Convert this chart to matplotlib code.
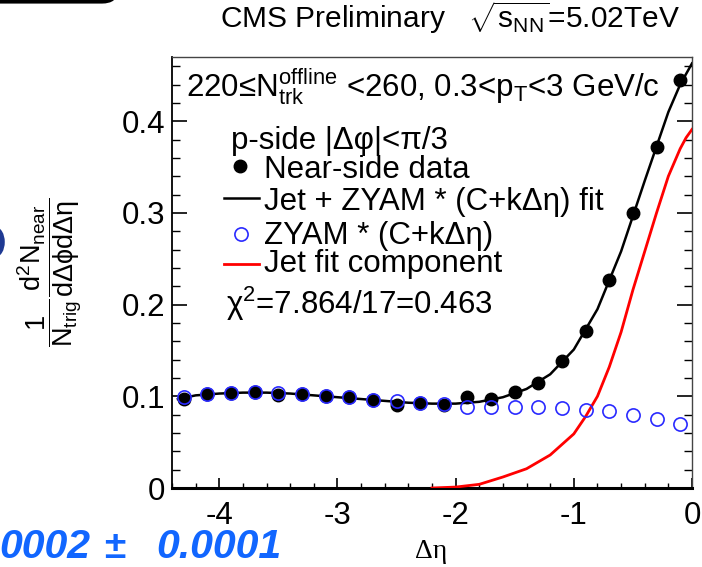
import matplotlib.pyplot as plt
from matplotlib.patches import FancyBboxPatch, Arc
from matplotlib.ticker import MultipleLocator

plt.rcParams['font.family'] = 'Liberation Sans'
plt.rcParams['mathtext.fontset'] = 'custom'
plt.rcParams['mathtext.rm'] = 'Liberation Sans'
plt.rcParams['mathtext.it'] = 'Liberation Sans:italic'
plt.rcParams['mathtext.default'] = 'regular'
plt.rcParams['axes.unicode_minus'] = False

# near-side projection, 0.2 wide bins in delta-eta
deta = [-4.3, -4.1, -3.9, -3.7, -3.5, -3.3, -3.1, -2.9, -2.7, -2.5, -2.3,
        -2.1, -1.9, -1.7, -1.5, -1.3, -1.1, -0.9, -0.7, -0.5, -0.3, -0.1]
near_side = [0.097, 0.103, 0.104, 0.105, 0.101, 0.103, 0.100, 0.099, 0.096, 0.091, 0.093,
             0.091, 0.099, 0.097, 0.105, 0.114, 0.139, 0.171, 0.227, 0.300, 0.372, 0.445]
zyam_bg = [0.099, 0.102, 0.104, 0.105, 0.104, 0.103, 0.100, 0.099, 0.096, 0.095, 0.093,
           0.092, 0.088, 0.088, 0.088, 0.088, 0.087, 0.085, 0.084, 0.080, 0.075, 0.070]

# full fit curve (jet + background)
fit_eta = [-4.35, -4.2, -4.0, -3.8, -3.6, -3.4, -3.2, -3.0, -2.8, -2.6, -2.4, -2.2,
           -2.0, -1.8, -1.6, -1.4, -1.2, -1.0, -0.8, -0.6, -0.4, -0.2, -0.1, 0.0]
fit_vals = [0.097, 0.101, 0.103, 0.104, 0.104, 0.103, 0.101, 0.099, 0.097, 0.095, 0.093, 0.092,
            0.092, 0.094, 0.099, 0.108, 0.124, 0.151, 0.195, 0.258, 0.335, 0.41, 0.44, 0.463]

# jet component of the fit
jet_eta = [-2.2, -2.0, -1.8, -1.6, -1.4, -1.2, -1.0, -0.9, -0.8, -0.7, -0.6,
           -0.5, -0.4, -0.3, -0.2, -0.1, -0.05, 0.0]
jet_vals = [0.0, 0.001, 0.004, 0.012, 0.021, 0.036, 0.059, 0.078, 0.100, 0.132, 0.170,
            0.216, 0.258, 0.300, 0.340, 0.370, 0.382, 0.391]

W, H = 702, 567
fig = plt.figure(figsize=(W / 100, H / 100), dpi=100)


def fx(x):
    return x / W


def fy(y):
    return 1 - y / H


ax = fig.add_axes([fx(172), fy(488), 520 / W, 431 / H])

ax.plot(fit_eta, fit_vals, color='black', lw=1.8, zorder=3)
ax.plot(jet_eta, jet_vals, color='red', lw=2.0, zorder=3)
ax.plot(deta, near_side, 'o', color='black', ms=9, zorder=4)
ax.plot(deta, zyam_bg, 'o', mfc='none', mec='#2a2aff', mew=1.2, ms=9.5, zorder=5)

ax.set_xlim(-4.4, 0)
ax.set_ylim(0, 0.47)
ax.set_xticks([-4, -3, -2, -1, 0])
ax.set_xticklabels(['-4', '-3', '-2', '-1', '0'])
ax.set_yticks([0, 0.1, 0.2, 0.3, 0.4])
ax.set_yticklabels(['0', '0.1', '0.2', '0.3', '0.4'])
ax.xaxis.set_minor_locator(MultipleLocator(0.2))
ax.yaxis.set_minor_locator(MultipleLocator(0.02))
ax.tick_params(which='both', direction='in', top=False, right=True, labelsize=22.5)
ax.tick_params(axis='x', which='major', length=7.5, width=1.2, pad=9)
ax.tick_params(axis='x', which='minor', length=3.8, width=1.0)
ax.tick_params(axis='y', which='major', length=11, width=1.2, pad=5)
ax.tick_params(axis='y', which='minor', length=5.5, width=1.0)

ax.spines['left'].set_linewidth(1.3)
ax.spines['bottom'].set_linewidth(2.2)
for side in ('top', 'right'):
    ax.spines[side].set_linewidth(1.0)
    ax.spines[side].set_color('#444444')

# legend block inside the frame
fs = 22.5
ax_t = fig.transFigure
fig.text(fx(186), fy(97), r'220≤N$_{trk}^{offline}$ <260, 0.3<p$_{T}$<3 GeV/c',
         fontsize=fs, va='baseline')
fig.text(fx(231), fy(149), 'p-side |Δφ|<π/3', fontsize=fs, va='baseline')
fig.lines.append(plt.Line2D([fx(240)], [fy(166)], marker='o', color='black', ms=9,
                            transform=ax_t))
fig.text(fx(264), fy(178), 'Near-side data', fontsize=fs, va='baseline')
fig.lines.append(plt.Line2D([fx(224), fx(259)], [fy(198), fy(198)], color='black', lw=1.8,
                            transform=ax_t))
fig.text(fx(264), fy(210), 'Jet + ZYAM * (C+kΔη) fit', fontsize=fs, va='baseline')
fig.lines.append(plt.Line2D([fx(240.5)], [fy(234)], marker='o', mfc='none', mec='#2a2aff',
                            mew=1.2, ms=9.5, transform=ax_t))
fig.text(fx(264), fy(244), 'ZYAM * (C+kΔη)', fontsize=fs, va='baseline')
fig.lines.append(plt.Line2D([fx(224), fx(259)], [fy(264), fy(264)], color='red', lw=2.0,
                            transform=ax_t))
fig.text(fx(264), fy(272), 'Jet fit component', fontsize=fs, va='baseline')
fig.text(fx(226), fy(314), r'$\chi^{2}$=7.864/17=0.463', fontsize=fs, va='baseline')

# header and axis titles
fig.text(fx(220), fy(28), r'CMS Preliminary   $\sqrt{s_{NN}}$=5.02TeV', fontsize=21.5,
         va='baseline')
fig.text(fx(431), fy(558), 'Δη', fontsize=20, ha='center', va='baseline',
         family='Liberation Serif')
fig.text(fx(50), fy(272),
         r'$\dfrac{1}{N_{trig}}\dfrac{d^{2}N_{near}}{d\Delta\phi d\Delta\eta}$',
         fontsize=19.5, rotation=90, ha='center', va='center')

# pieces of the surrounding slide
fig.patches.append(FancyBboxPatch((fx(-60), fy(1.5)), fx(176), 0.2,
                                  boxstyle='round,pad=0,rounding_size=0.02',
                                  fc='white', ec='black', lw=3, transform=ax_t))
fig.patches.append(Arc((fx(-6), fy(242)), fx(16), 26 / H, theta1=-90, theta2=90,
                       color='#1f3a93', lw=4, transform=ax_t))
blue = '#1166ff'
fig.text(fx(-1), fy(558), '0002', fontsize=29.5, color=blue,
         fontweight='bold', fontstyle='italic', va='baseline')
fig.text(fx(104), fy(558), '±', fontsize=28, color=blue,
         fontweight='bold', va='baseline')
fig.text(fx(156), fy(558), '0.0001', fontsize=29.5, color=blue,
         fontweight='bold', fontstyle='italic', va='baseline')

fig.savefig('out.png', dpi=100)
